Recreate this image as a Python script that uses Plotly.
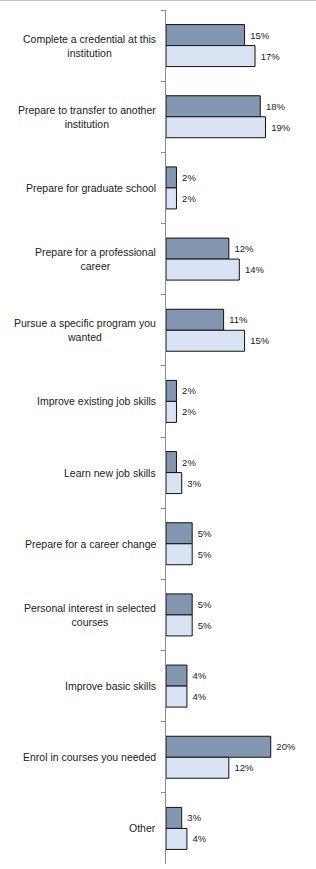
import plotly.graph_objects as go

categories = [
    "Complete a credential at this<br>institution",
    "Prepare to transfer to another<br>institution",
    "Prepare for graduate school",
    "Prepare for a professional<br>career",
    "Pursue a specific program you<br>wanted",
    "Improve existing job skills",
    "Learn new job skills",
    "Prepare for a career change",
    "Personal interest in selected<br>courses",
    "Improve basic skills",
    "Enrol in courses you needed",
    "Other",
]
series_a = [15, 18, 2, 12, 11, 2, 2, 5, 5, 4, 20, 3]
series_b = [17, 19, 2, 14, 15, 2, 3, 5, 5, 4, 12, 4]

W, H = 316, 869
L, R, T, B = 166, 6, 10, 5
PW = W - L - R

fig = go.Figure()
fig.add_trace(go.Bar(
    y=categories, x=series_a, orientation="h",
    marker=dict(color="#8497B0", line=dict(color="#111111", width=1)),
    text=[f"\u00a0{v}%" for v in series_a], textposition="outside",
    textfont=dict(size=9.5, color="#222222", family="Liberation Sans"),
    cliponaxis=False, name="A",
))
fig.add_trace(go.Bar(
    y=categories, x=series_b, orientation="h",
    marker=dict(color="#DAE3F3", line=dict(color="#111111", width=1)),
    text=[f"\u00a0{v}%" for v in series_b], textposition="outside",
    textfont=dict(size=9.5, color="#222222", family="Liberation Sans"),
    cliponaxis=False, name="B",
))

annotations = []
for c in categories:
    annotations.append(dict(
        text=c, xref="paper", yref="y", x=-8 / PW, y=c,
        xanchor="right", yanchor="middle", align="center", showarrow=False,
        font=dict(size=10.5, color="#222222", family="Liberation Sans"),
    ))

fig.update_layout(
    width=W, height=H,
    margin=dict(l=L, r=R, t=T, b=B),
    paper_bgcolor="white", plot_bgcolor="white",
    barmode="group", bargap=0.41, bargroupgap=0,
    showlegend=False,
    annotations=annotations,
    shapes=[
        dict(type="line", xref="paper", yref="paper", x0=-L / PW, x1=1 + R / PW,
             y0=1 + (T - 0.5) / (H - T - B), y1=1 + (T - 0.5) / (H - T - B),
             line=dict(color="#BFBFBF", width=1)),
    ],
)
fig.update_xaxes(range=[0, 27.5], showgrid=False, zeroline=False, showline=False,
                 showticklabels=False, ticks="")
fig.update_yaxes(autorange="reversed", showgrid=False, showline=True, linecolor="#8C8C8C",
                 linewidth=1, ticks="outside", ticklen=4, tickcolor="#8C8C8C",
                 tickson="boundaries", showticklabels=False, type="category")

fig.write_html("out.html", config={"displayModeBar": False},
               post_script="document.body.style.margin='0';")
